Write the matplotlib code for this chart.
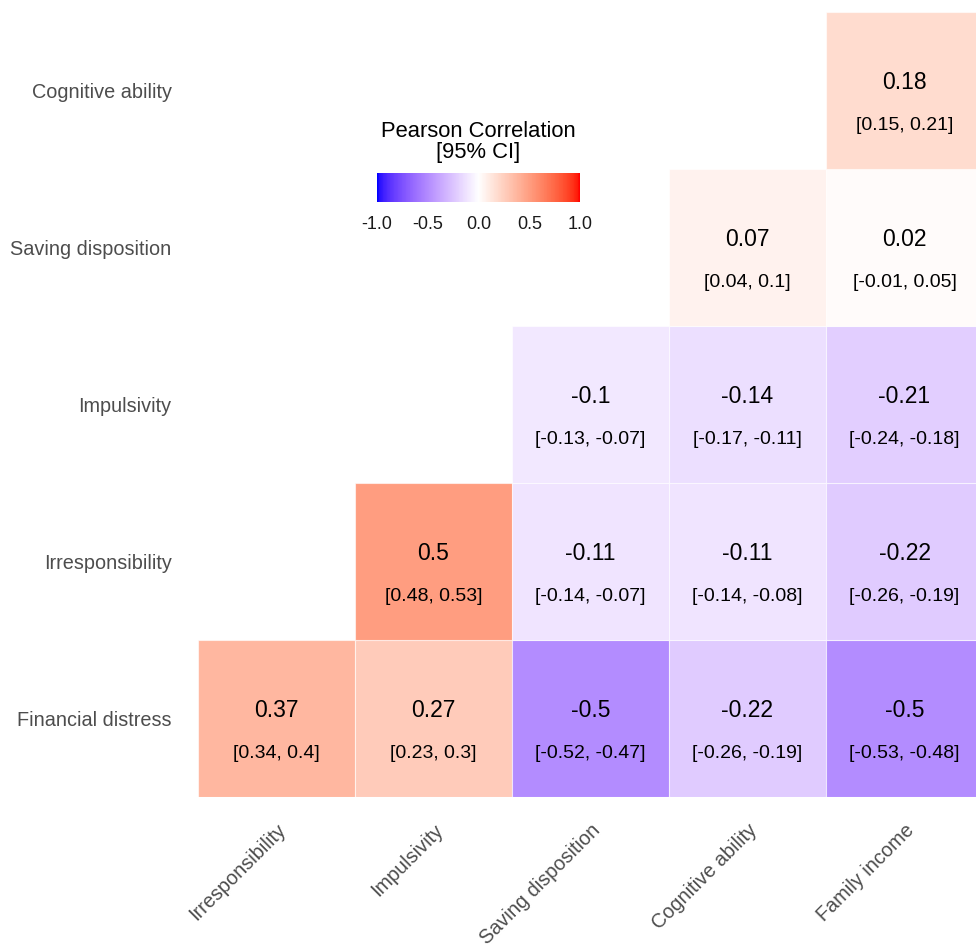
import matplotlib.pyplot as plt
import numpy as np
from matplotlib.colors import ListedColormap

plt.rcParams['font.family'] = ['Liberation Sans', 'DejaVu Sans']
plt.rcParams['axes.unicode_minus'] = False

# variable names, bottom row first
row_names = ['Financial distress', 'Irresponsibility', 'Impulsivity',
             'Saving disposition', 'Cognitive ability']
col_names = ['Irresponsibility', 'Impulsivity', 'Saving disposition',
             'Cognitive ability', 'Family income']

# lower triangle of the correlation matrix: (row, column) indexes
cell_row = [0, 0, 0, 0, 0, 1, 1, 1, 1, 2, 2, 2, 3, 3, 4]
cell_col = [0, 1, 2, 3, 4, 1, 2, 3, 4, 2, 3, 4, 3, 4, 4]
r_value = [0.37, 0.27, -0.5, -0.22, -0.5,
           0.5, -0.11, -0.11, -0.22,
           -0.1, -0.14, -0.21,
           0.07, 0.02,
           0.18]
ci_low = [0.34, 0.23, -0.52, -0.26, -0.53,
          0.48, -0.14, -0.14, -0.26,
          -0.13, -0.17, -0.24,
          0.04, -0.01,
          0.15]
ci_high = [0.4, 0.3, -0.47, -0.19, -0.48,
           0.53, -0.07, -0.08, -0.19,
           -0.07, -0.11, -0.18,
           0.1, 0.05,
           0.21]

legend_ticks = [-1, -0.5, 0, 0.5, 1]
legend_labels = ['-1.0', '-0.5', '0.0', '0.5', '1.0']


# blue - white - red gradient interpolated in Lab space
def srgb_to_lab(rgb):
    c = np.asarray(rgb, dtype=float)
    c = np.where(c <= 0.04045, c / 12.92, ((c + 0.055) / 1.055) ** 2.4)
    m = np.array([[0.4124, 0.3576, 0.1805],
                  [0.2126, 0.7152, 0.0722],
                  [0.0193, 0.1192, 0.9505]])
    xyz = m @ c / np.array([0.95047, 1.0, 1.08883])
    f = np.where(xyz > 0.008856, np.cbrt(xyz), 7.787 * xyz + 16 / 116)
    return np.array([116 * f[1] - 16, 500 * (f[0] - f[1]), 200 * (f[1] - f[2])])


def lab_to_srgb(lab):
    L, a, b = lab
    fy = (L + 16) / 116
    f = np.array([fy + a / 500, fy, fy - b / 200])
    xyz = np.where(f ** 3 > 0.008856, f ** 3, (f - 16 / 116) / 7.787)
    xyz = xyz * np.array([0.95047, 1.0, 1.08883])
    m = np.array([[3.2406, -1.5372, -0.4986],
                  [-0.9689, 1.8758, 0.0415],
                  [0.0557, -0.2040, 1.0570]])
    c = np.clip(m @ xyz, 0, 1)
    c = np.where(c <= 0.0031308, 12.92 * c, 1.055 * c ** (1 / 2.4) - 0.055)
    return np.clip(c, 0, 1)


lab_low = srgb_to_lab([0, 0, 1])
lab_mid = srgb_to_lab([1, 1, 1])
lab_high = srgb_to_lab([1, 0, 0])
colors = []
for t in np.linspace(-1, 1, 256):
    if t < 0:
        lab = lab_mid + (lab_low - lab_mid) * (-t)
    else:
        lab = lab_mid + (lab_high - lab_mid) * t
    colors.append(lab_to_srgb(lab))
cmap = ListedColormap(colors)
norm = plt.Normalize(-1, 1)

fig = plt.figure(figsize=(9.76, 9.46), dpi=100)
ax = fig.add_axes([198 / 976, 149 / 946, 785 / 976, 785 / 946])

for i in range(len(r_value)):
    x = cell_col[i]
    y = cell_row[i]
    ax.add_patch(plt.Rectangle((x - 0.5, y - 0.5), 1, 1,
                               facecolor=cmap(norm(r_value[i])),
                               edgecolor=(1, 1, 1, 0.6), linewidth=0.8))
    ax.text(x, y + 0.05, str(r_value[i]), ha='center', va='center',
            fontsize=16.5, color='black')
    ax.text(x, y - 0.225, '[' + str(ci_low[i]) + ', ' + str(ci_high[i]) + ']',
            ha='center', va='center', fontsize=14, color='black')

ax.set_xlim(-0.5, 4.5)
ax.set_ylim(-0.5, 4.5)
for s in ax.spines.values():
    s.set_visible(False)

ax.set_yticks(range(5))
ax.set_yticklabels(row_names, fontsize=14.3, color='#4D4D4D')
ax.set_xticks(range(5))
ax.set_xticklabels(col_names, fontsize=14.3, color='#4D4D4D', rotation=45,
                   ha='right', va='top', rotation_mode='anchor')
ax.tick_params(axis='y', length=0, pad=19)
ax.tick_params(axis='x', length=0, pad=17)

# colour bar legend, white tick marks only inside the bar
cax = fig.add_axes([377 / 976, (946 - 202) / 946, 203 / 976, 29 / 946])
sm = plt.cm.ScalarMappable(norm=norm, cmap=cmap)
cb = fig.colorbar(sm, cax=cax, orientation='horizontal', ticks=legend_ticks)
cb.outline.set_visible(False)
cb.ax.set_xticklabels(legend_labels)
cax.set_xticks(legend_ticks[1:-1], minor=True)
cax.tick_params(axis='x', which='major', length=0, labelsize=13,
                labelcolor='#1A1A1A', pad=10)
cax.tick_params(axis='x', which='minor', direction='in', color='white',
                length=5, width=1, top=True, bottom=True)
fig.text(478.5 / 976, 1 - 142 / 946, 'Pearson Correlation\n[95% CI]',
         ha='center', va='center', fontsize=15.8, linespacing=1.0)

fig.savefig('out.png', dpi=100)
